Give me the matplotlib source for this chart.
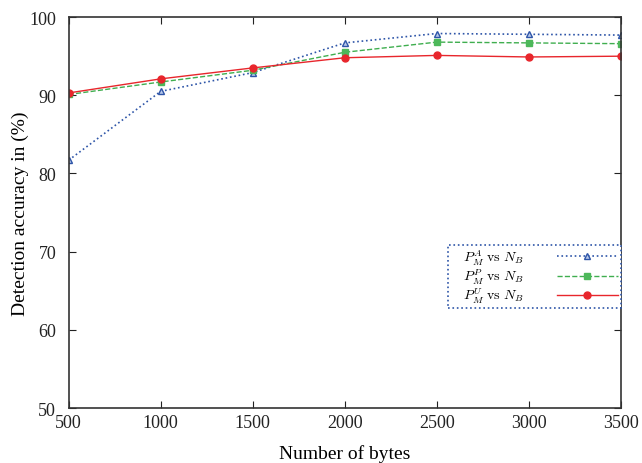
import numpy as np
import matplotlib
matplotlib.use("Agg")
import matplotlib.pyplot as plt

plt.rcParams['font.family'] = ['Liberation Serif', 'DejaVu Serif']
plt.rcParams['mathtext.fontset'] = 'cm'

# data
num_bytes = [500, 1000, 1500, 2000, 2500, 3000, 3500]
acc_a = [81.7, 90.5, 92.9, 96.7, 97.9, 97.8, 97.7]
acc_p = [90.1, 91.7, 93.2, 95.5, 96.8, 96.7, 96.6]
acc_u = [90.3, 92.1, 93.5, 94.8, 95.1, 94.9, 95.0]
labels = [r'$\quad P_M^A\ \mathrm{vs}\ N_B$', r'$\quad P_M^P\ \mathrm{vs}\ N_B$',
          r'$\quad P_M^U\ \mathrm{vs}\ N_B$']

fig, ax = plt.subplots(figsize=(6.42, 4.64), dpi=100)
fig.subplots_adjust(left=0.107, right=0.967, top=0.961, bottom=0.1185)

ax.plot(num_bytes, acc_a, color='#2e55a8', linestyle=':', linewidth=1.2,
        marker='^', markersize=5, markerfacecolor='#b8c8ea', markeredgecolor='#2e55a8',
        markeredgewidth=1.0, label=labels[0])
ax.plot(num_bytes, acc_p, color='#3fae4f', linestyle='--', linewidth=1.0,
        marker='s', markersize=5, markerfacecolor='#4db85a', markeredgecolor='#4db85a',
        label=labels[1])
ax.plot(num_bytes, acc_u, color='#e8262c', linestyle='-', linewidth=1.0,
        marker='o', markersize=5, markerfacecolor='#e8262c', markeredgecolor='#e8262c',
        label=labels[2])

ax.set_xlim(500, 3500)
ax.set_ylim(50, 100)
ax.set_xticks(num_bytes)
ax.set_yticks([50, 60, 70, 80, 90, 100])
ax.tick_params(direction='in', top=True, right=True, length=5, labelsize=13, colors='#222222')
ax.tick_params(axis='x', pad=4)
ax.tick_params(axis='y', pad=9)
for s in ax.spines.values():
    s.set_color('#333333')
    s.set_linewidth(1.2)

ax.set_xlabel('Number of bytes', fontsize=14, labelpad=10)
ax.set_ylabel('Detection accuracy in (%)', fontsize=14, labelpad=0)

leg = ax.legend(loc='lower right', bbox_to_anchor=(1.0, 0.256), markerfirst=False,
                fontsize=10, fancybox=False, framealpha=1, borderpad=0.2,
                handlelength=4.4, handletextpad=2.4, labelspacing=0.0,
                borderaxespad=0)
frame = leg.get_frame()
frame.set_edgecolor('#2e55a8')
frame.set_linestyle(':')
frame.set_linewidth(1.2)

fig.savefig('out.png', dpi=100)
